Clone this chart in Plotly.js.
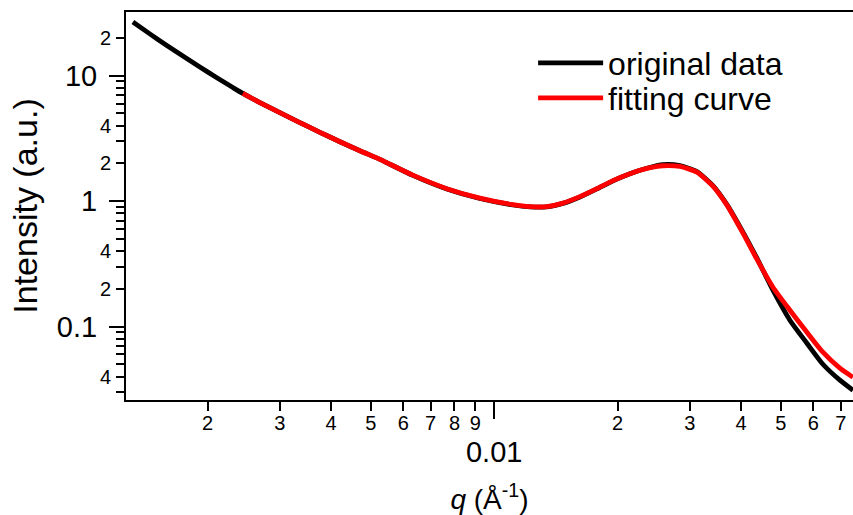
<!DOCTYPE html>
<html>
<head>
<meta charset="utf-8">
<script src="https://cdn.plot.ly/plotly-3.0.1.min.js"></script>
<style>
  html, body { margin: 0; padding: 0; background: #fff; }
  #chart { width: 853px; height: 515px; }
</style>
</head>
<body>
<div id="chart"></div>
<script>
// Measured scattering intensity I(q)
const qOriginal = [0.001315, 0.001446, 0.001591, 0.001741, 0.001915, 0.002107, 0.002305, 0.002438,
  0.002683, 0.003001, 0.003358, 0.003758, 0.004205, 0.004704, 0.005263, 0.006334, 0.007665, 0.009228,
  0.01111, 0.01222, 0.01344, 0.01471, 0.01618, 0.01780, 0.01948, 0.02143, 0.02357, 0.02579, 0.02837,
  0.03121, 0.03415, 0.03695, 0.04043, 0.04372, 0.04784, 0.05263, 0.05790, 0.06334, 0.06968, 0.07497];
const iOriginal = [26.76, 21.54, 17.44, 14.36, 11.73, 9.64, 8.05, 7.22,
  6.10, 5.07, 4.23, 3.54, 2.976, 2.523, 2.154, 1.605, 1.250, 1.050,
  0.932, 0.900, 0.900, 0.960, 1.080, 1.252, 1.452, 1.655, 1.830, 1.955, 1.919,
  1.719, 1.329, 0.938, 0.566, 0.351, 0.1951, 0.1125, 0.0737, 0.0501, 0.0374, 0.0311];

// Model fit
const qFit = [0.002438, 0.002683, 0.003001, 0.003358, 0.003758, 0.004205, 0.004704, 0.005263,
  0.006334, 0.007665, 0.009228, 0.01111, 0.01222, 0.01344, 0.01471, 0.01618, 0.01780, 0.01948,
  0.02143, 0.02357, 0.02579, 0.02837, 0.03121, 0.03415, 0.03695, 0.04043, 0.04372, 0.04784,
  0.05263, 0.05790, 0.06334, 0.06968, 0.07497];
const iFit = [7.22, 6.10, 5.07, 4.23, 3.54, 2.976, 2.523, 2.154,
  1.612, 1.258, 1.057, 0.938, 0.904, 0.904, 0.964, 1.086, 1.258, 1.457,
  1.657, 1.823, 1.916, 1.891, 1.703, 1.317, 0.929, 0.5557, 0.3447, 0.2061,
  0.1351, 0.0902, 0.0625, 0.0466, 0.0395];

// Axis ticks: labelled small ticks, unlabelled minor ticks and decade ticks
const xMinorVals = [0.002, 0.003, 0.004, 0.005, 0.006, 0.007, 0.008, 0.009,
  0.02, 0.03, 0.04, 0.05, 0.06, 0.07];
const xMinorText = ['2', '3', '4', '5', '6', '7', '8', '9', '2', '3', '4', '5', '6', '7'];
const xMajorVals = [0.01];
const xMajorText = ['0.01'];

const yLabelVals = [20, 4, 2, 0.4, 0.2, 0.04];
const yLabelText = ['2', '4', '2', '4', '2', '4'];
const yBareVals = [9, 8, 7, 6, 5, 3, 0.9, 0.8, 0.7, 0.6, 0.5, 0.3,
  0.09, 0.08, 0.07, 0.06, 0.05, 0.03];
const yMajorVals = [0.1, 1, 10];
const yMajorText = ['0.1', '1', '10'];

const xRange = [Math.log10(0.001265), Math.log10(0.0750)];
const yRange = [Math.log10(0.026), Math.log10(32.2)];

const FONT = 'Liberation Sans, Arial, Helvetica, sans-serif';

const traces = [
  {
    x: qOriginal, y: iOriginal, name: 'original data', type: 'scatter', mode: 'lines',
    line: { color: '#000000', width: 4.8, shape: 'spline', smoothing: 0.6 },
    legend: 'legend', hoverinfo: 'x+y'
  },
  {
    x: qFit, y: iFit, name: 'fitting curve', type: 'scatter', mode: 'lines',
    line: { color: '#ff0000', width: 4.8, shape: 'spline', smoothing: 0.6 },
    legend: 'legend2', hoverinfo: 'x+y'
  },
  // empty trace that carries the decade-tick axes
  { x: [], y: [], xaxis: 'x2', yaxis: 'y2', type: 'scatter', mode: 'lines',
    showlegend: false, hoverinfo: 'skip' }
];

const common = { type: 'log', showgrid: false, zeroline: false, ticks: 'outside',
  tickcolor: '#000', tickwidth: 2, color: '#000' };

const legendStyle = { bgcolor: 'rgba(0,0,0,0)', borderwidth: 0, xanchor: 'left', yanchor: 'middle',
  font: { family: FONT, size: 32, color: '#000' }, itemwidth: 65 };

const layout = {
  width: 853, height: 515,
  margin: { l: 126, r: 0, t: 12, b: 115 },
  paper_bgcolor: '#fff', plot_bgcolor: '#fff',
  font: { family: FONT, color: '#000' },
  showlegend: true,
  legend: Object.assign({ x: 0.56, y: 1 - (63 - 12) / 388 }, legendStyle),
  legend2: Object.assign({ x: 0.56, y: 1 - (98 - 12) / 388 }, legendStyle),
  xaxis: Object.assign({}, common, {
    range: xRange, tickmode: 'array', tickvals: xMinorVals, ticktext: xMinorText,
    ticklen: 9, tickfont: { family: FONT, size: 20 }, ticklabelstandoff: -5,
    showline: true, linecolor: '#000', linewidth: 2, mirror: true,
    title: { text: '<i>q</i> (Å<sup>-1</sup>)', font: { family: FONT, size: 28 }, standoff: 57 }
  }),
  xaxis2: Object.assign({}, common, {
    overlaying: 'x', anchor: 'y2', side: 'bottom',
    range: xRange, tickmode: 'array', tickvals: xMajorVals, ticktext: xMajorText,
    ticklen: 18, tickfont: { family: FONT, size: 29 }, ticklabelstandoff: 8, showline: false
  }),
  yaxis: Object.assign({}, common, {
    range: yRange, tickmode: 'array', tickvals: yLabelVals, ticktext: yLabelText,
    ticklen: 8, tickfont: { family: FONT, size: 20 }, ticklabelstandoff: 1,
    minor: { tickmode: 'array', tickvals: yBareVals, ticks: 'outside', ticklen: 8,
      tickwidth: 2, tickcolor: '#000', showgrid: false },
    showline: true, linecolor: '#000', linewidth: 2, mirror: false,
    title: { text: 'Intensity (a.u.)', font: { family: FONT, size: 34 }, standoff: 52 }
  }),
  yaxis2: Object.assign({}, common, {
    overlaying: 'y', anchor: 'x2', side: 'left',
    range: yRange, tickmode: 'array', tickvals: yMajorVals, ticktext: yMajorText,
    ticklen: 16, tickfont: { family: FONT, size: 29 }, ticklabelstandoff: 6, showline: false
  })
};

Plotly.newPlot('chart', traces, layout, { displayModeBar: false, staticPlot: true });
</script>
</body>
</html>
